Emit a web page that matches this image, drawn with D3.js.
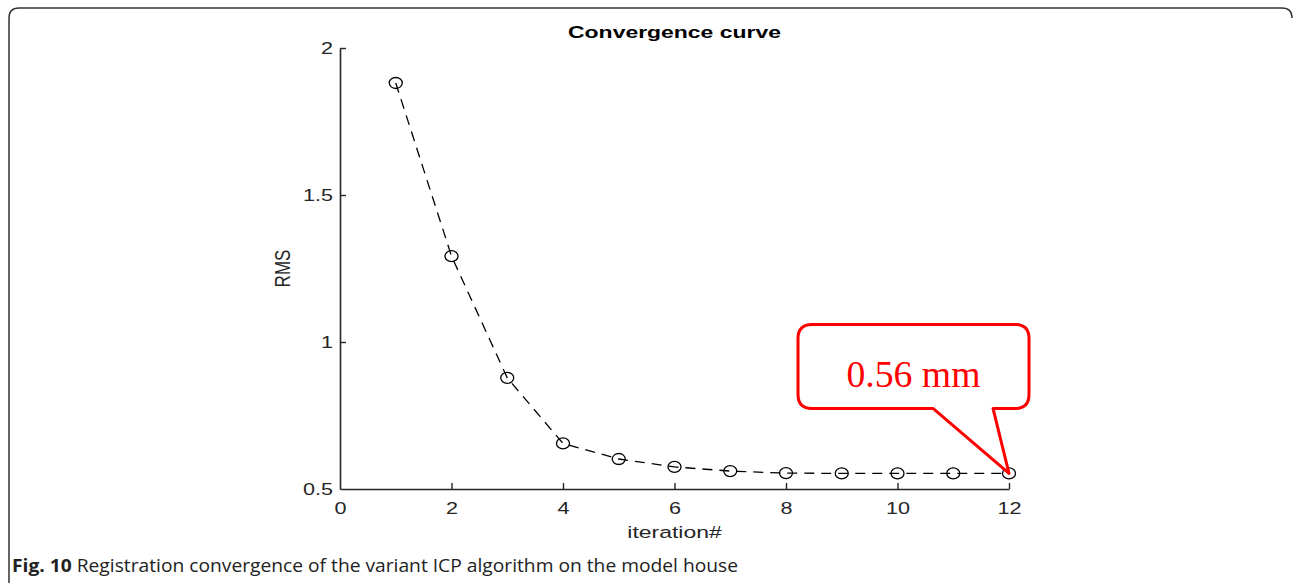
<!DOCTYPE html>
<html>
<head>
<meta charset="utf-8">
<script src="https://cdn.jsdelivr.net/npm/d3@7"></script>
<style>
  body { margin: 0; background: #fff; }
  svg { display: block; }
</style>
</head>
<body>
<svg id="chart" width="1293" height="584"></svg>
<script>
// data
var iterations = [1, 2, 3, 4, 5, 6, 7, 8, 9, 10, 11, 12];
var rms = [1.881, 1.292, 0.878, 0.655, 0.602, 0.575, 0.561, 0.554, 0.553, 0.553, 0.553, 0.553];
var xTicks = [0, 2, 4, 6, 8, 10, 12];
var yTicks = [0.5, 1, 1.5, 2];
var calloutText = "0.56 mm";

var svg = d3.select("#chart"),
    axisColor = "#262626",
    sans = "'Liberation Sans', Arial, sans-serif",
    stretch = "scale(1.35,1)"; // the source figure is squeezed wide

// outer frame of the figure panel (open at the bottom right, like the source)
svg.append("path")
  .attr("d", "M9,583 L9,18 Q9,8 19,8 L1282,8 Q1292,8 1292,18")
  .attr("fill", "none")
  .attr("stroke", "#333")
  .attr("stroke-width", 1.5);

var x = d3.scaleLinear().domain([0, 12]).range([340, 1009]),
    y = d3.scaleLinear().domain([0.5, 2]).range([489, 48]);

// axes (MATLAB style, ticks pointing inward)
var xAxis = d3.axisBottom(x).tickValues(xTicks).tickSizeInner(-6).tickSizeOuter(0).tickPadding(14);
var yAxis = d3.axisLeft(y).tickValues(yTicks).tickSizeInner(-6).tickSizeOuter(0).tickPadding(5.2)
  .tickFormat(d3.format("~g"));

var gx = svg.append("g").attr("transform", "translate(0," + y(0.5) + ")").call(xAxis);
var gy = svg.append("g").attr("transform", "translate(" + x(0) + ",0)").call(yAxis);

[gx, gy].forEach(function (g) {
  g.select(".domain").attr("stroke", axisColor).attr("stroke-width", 1.6);
  g.selectAll(".tick line").attr("stroke", axisColor).attr("stroke-width", 1.4);
  g.selectAll(".tick text")
    .attr("fill", axisColor)
    .attr("transform", stretch)
    .style("font-family", sans)
    .style("font-size", "16px");
});
gy.selectAll(".tick line").filter(function (d) { return d === 0.5; }).remove();
gx.selectAll(".tick line").filter(function (d) { return d === 0; }).remove();

// labels
function label(tx, ty, txt, size, weight, rot) {
  svg.append("g")
    .attr("transform", "translate(" + tx + "," + ty + ") " + stretch + (rot ? " rotate(" + rot + ")" : ""))
    .append("text")
    .attr("text-anchor", "middle")
    .attr("fill", weight ? "#000" : axisColor)
    .style("font-family", sans)
    .style("font-weight", weight || "normal")
    .style("font-size", size + "px")
    .text(txt);
}
label((x(0) + x(12)) / 2, 38, "Convergence curve", 17, "bold");
label((x(0) + x(12)) / 2, 538, "iteration#", 17);
label(290, y(1.25), "RMS", 17, null, -90);

// the dashed curve with circle markers
var points = iterations.map(function (d, i) { return [d, rms[i]]; });

svg.append("path")
  .datum(points)
  .attr("d", d3.line().x(function (d) { return x(d[0]); }).y(function (d) { return y(d[1]); }))
  .attr("fill", "none")
  .attr("stroke", "#000")
  .attr("stroke-width", 1.3)
  .attr("stroke-dasharray", "10,7");

svg.selectAll("ellipse.pt")
  .data(points)
  .enter().append("ellipse")
  .attr("class", "pt")
  .attr("cx", function (d) { return x(d[0]); })
  .attr("cy", function (d) { return y(d[1]); })
  .attr("rx", 6.5).attr("ry", 5.5)
  .attr("fill", "none")
  .attr("stroke", "#000")
  .attr("stroke-width", 1.3);

// callout pointing at the last value
var tip = points[points.length - 1],
    tx = x(tip[0]), ty = y(tip[1]),
    bx0 = tx - 211, bx1 = tx + 20, by0 = ty - 149, by1 = ty - 65, r = 14;

var callout = d3.path();
callout.moveTo(bx0 + r, by0);
callout.lineTo(bx1 - r, by0);
callout.quadraticCurveTo(bx1, by0, bx1, by0 + r);
callout.lineTo(bx1, by1 - r);
callout.quadraticCurveTo(bx1, by1, bx1 - r, by1);
callout.lineTo(tx - 16, by1);
callout.lineTo(tx, ty);
callout.lineTo(tx - 76, by1);
callout.lineTo(bx0 + r, by1);
callout.quadraticCurveTo(bx0, by1, bx0, by1 - r);
callout.lineTo(bx0, by0 + r);
callout.quadraticCurveTo(bx0, by0, bx0 + r, by0);
callout.closePath();

svg.append("path")
  .attr("d", callout.toString())
  .attr("fill", "#fff")
  .attr("stroke", "#ff0000")
  .attr("stroke-width", 3)
  .attr("stroke-linejoin", "round");

svg.append("text")
  .attr("x", (bx0 + bx1) / 2).attr("y", by0 + 63)
  .attr("text-anchor", "middle")
  .attr("fill", "#ff0000")
  .attr("textLength", 134)
  .attr("lengthAdjust", "spacingAndGlyphs")
  .style("font-family", "'Liberation Serif', 'Times New Roman', serif")
  .style("font-size", "37px")
  .text(calloutText);

// figure caption
var cap = svg.append("text")
  .attr("x", 12).attr("y", 572)
  .attr("fill", "#222")
  .attr("textLength", 726)
  .attr("lengthAdjust", "spacingAndGlyphs")
  .style("font-family", "'Open Sans', 'Noto Sans', sans-serif")
  .style("font-size", "18px");
cap.append("tspan").style("font-weight", "bold").text("Fig. 10");
cap.append("tspan").text(" Registration convergence of the variant ICP algorithm on the model house");
</script>
</body>
</html>
